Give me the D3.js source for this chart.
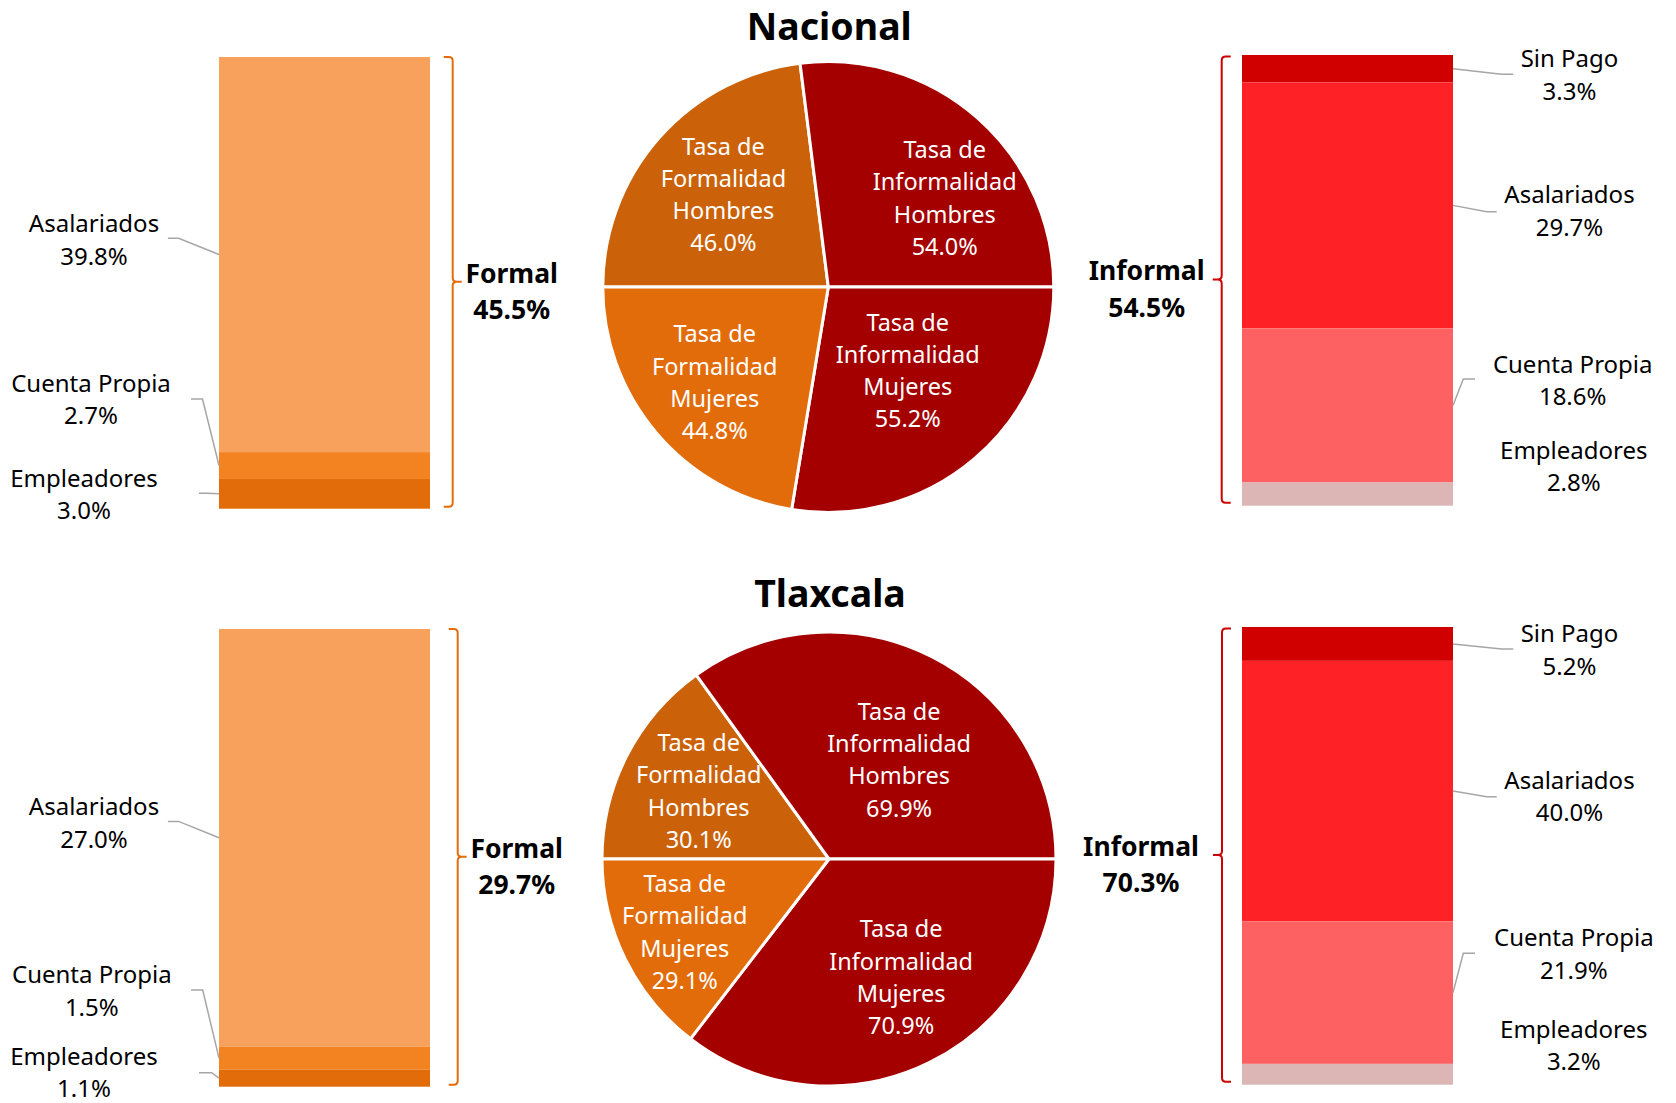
<!DOCTYPE html>
<html>
<head>
<meta charset="utf-8">
<script src="https://cdn.jsdelivr.net/npm/d3@7"></script>
<style>
  body { margin: 0; background: #fff; }
  svg { display: block; font-family: "Noto Sans", "Open Sans", sans-serif; }
</style>
</head>
<body>
<div id="chart"></div>
<script>
// ---- data ----
var regions = ["Nacional", "Tlaxcala"];

var formalCats = ["Asalariados", "Cuenta Propia", "Empleadores"];
var formalNacional = [39.8, 2.7, 3.0];
var formalTlaxcala = [27.0, 1.5, 1.1];

var informalCats = ["Sin Pago", "Asalariados", "Cuenta Propia", "Empleadores"];
var informalNacional = [3.3, 29.7, 18.6, 2.8];
var informalTlaxcala = [5.2, 40.0, 21.9, 3.2];

var pieCats = ["Formalidad Hombres", "Informalidad Hombres", "Informalidad Mujeres", "Formalidad Mujeres"];
var pieNacional = [46.0, 54.0, 55.2, 44.8];
var pieTlaxcala = [30.1, 69.9, 70.9, 29.1];

var formalTotal = [45.5, 29.7];
var informalTotal = [54.5, 70.3];

// ---- colours ----
var formalColors = ["#F7A15C", "#F38220", "#E36C0A"];
var informalColors = ["#D00000", "#FE2226", "#FE6161", "#DCB5B5"];
var pieColors = ["#CB620A", "#A50000", "#A50000", "#E36C0A"];
var orangeBrace = "#E46C0A", redBrace = "#CC0000", leaderGray = "#A6A6A6";

// ---- layout (per panel) ----
var layout = [
  {
    titleY: 39.6, cx: 828.3, cy: 287, r: 225.5,
    leftBar: [57, 508.7], rightBar: [55, 505.7],
    formalBraceX: 452.7, informalBraceX: 1221.7, informalDx: -66,
    // text centre x, first baseline, leader start x, elbow x, elbow y
    leftLabels: [[94, 232.4, 167.9, 178.6, 238.3], [91, 391.9, 191, 202.5, 399], [84, 486.6, 199, 207, 493.3]],
    rightLabels: [[1569.5, 67.1, 1513.3, 1501.7, 74.3], [1569.5, 203.2, 1496.7, 1486.7, 211.7],
                  [1572.7, 372.6, 1475, 1463.3, 379], [1573.8, 458.7]],
    pieNudge: [[0, 0], [24, 16], [-11, -23], [-7, 5]]
  },
  {
    titleY: 606.7, cx: 829, cy: 859, r: 227,
    leftBar: [629, 1086.7], rightBar: [627, 1084.7],
    formalBraceX: 457.7, informalBraceX: 1222, informalDx: -72,
    leftLabels: [[94, 815.2, 167.9, 178.6, 821.4], [91.8, 983.1, 191, 202.7, 990], [84, 1064.5, 199, 211.7, 1072.7]],
    rightLabels: [[1569.5, 642.1, 1513.3, 1501.7, 649], [1569.5, 788.5, 1496.7, 1486.7, 796.7],
                  [1573.8, 946.1, 1475, 1463.3, 953.3], [1573.8, 1037.8]],
    pieNudge: [[-5, -4], [6, 26], [10, -8], [-18, 11]]
  }
];

var formalData = [formalNacional, formalTlaxcala];
var informalData = [informalNacional, informalTlaxcala];
var pieData = [pieNacional, pieTlaxcala];

var width = 1676, height = 1103;
var fmt = function(v) { return d3.format(".1f")(v) + "%"; };

var svg = d3.select("#chart").append("svg")
  .attr("width", width)
  .attr("height", height);

var line = d3.line();

function brace(g, x, top, bot, dir, color) {
  var r = 4, arm = 9, mid = (top + bot) / 2;
  var hx = x - dir * arm, tip = x + dir * arm;
  var d = "M" + hx + "," + top + " L" + (x - dir * r) + "," + top +
    " Q" + x + "," + top + " " + x + "," + (top + r) +
    " L" + x + "," + (mid - r) +
    " Q" + x + "," + mid + " " + (x + dir * r) + "," + mid +
    " L" + tip + "," + mid +
    " M" + (x + dir * r) + "," + mid +
    " Q" + x + "," + mid + " " + x + "," + (mid + r) +
    " L" + x + "," + (bot - r) +
    " Q" + x + "," + bot + " " + (x - dir * r) + "," + bot +
    " L" + hx + "," + bot;
  g.append("path").attr("d", d)
    .attr("fill", "none").attr("stroke", color).attr("stroke-width", 2);
  return {tip: tip, mid: mid};
}

// segments stacked from the top of the bar downwards, first category on top
function stackedBar(g, values, cats, colors, x0, x1, range, labels, side) {
  var total = d3.sum(values);
  var y = d3.scaleLinear().domain([0, total]).range(range);
  var ends = d3.cumsum(values);
  var segs = values.map(function(v, i) {
    return {cat: cats[i], value: v, y0: ends[i] - v, y1: ends[i], color: colors[i], lab: labels[i]};
  });

  g.selectAll(null).data(segs).enter().append("rect")
    .attr("x", x0)
    .attr("width", x1 - x0)
    .attr("y", function(d) { return y(d.y0); })
    .attr("height", function(d) { return y(d.y1) - y(d.y0); })
    .attr("fill", function(d) { return d.color; });

  // leader lines
  var edge = side === "left" ? x0 : x1;
  g.selectAll(null).data(segs.filter(function(d) { return d.lab.length > 2; }))
    .enter().append("path")
    .attr("d", function(d) {
      var midY = y((d.y0 + d.y1) / 2);
      return line([[d.lab[2], d.lab[4]], [d.lab[3], d.lab[4]], [edge, midY]]);
    })
    .attr("fill", "none").attr("stroke", leaderGray).attr("stroke-width", 1.5);

  var t = g.selectAll(null).data(segs).enter().append("text")
    .attr("text-anchor", "middle")
    .attr("font-size", 24)
    .attr("fill", "#000");
  t.append("tspan")
    .attr("x", function(d) { return d.lab[0]; })
    .attr("y", function(d) { return d.lab[1]; })
    .text(function(d) { return d.cat; });
  t.append("tspan")
    .attr("x", function(d) { return d.lab[0]; })
    .attr("y", function(d) { return d.lab[1] + 32.5; })
    .text(function(d) { return fmt(d.value); });
}

regions.forEach(function(name, p) {
  var L = layout[p];
  var g = svg.append("g");

  // title
  g.append("text")
    .attr("x", L.cx + 1)
    .attr("y", L.titleY)
    .attr("text-anchor", "middle")
    .attr("font-size", 37.5)
    .attr("font-weight", "bold")
    .text(name);

  // pie
  var pie = d3.pie().sort(null).startAngle(-Math.PI / 2).endAngle(3 * Math.PI / 2);
  var arcs = pie(pieData[p]);
  var arc = d3.arc().innerRadius(0).outerRadius(L.r);
  var labelArc = d3.arc().innerRadius(L.r * 0.62).outerRadius(L.r * 0.62);
  var pg = g.append("g").attr("transform", "translate(" + L.cx + "," + L.cy + ")");

  pg.selectAll(null).data(arcs).enter().append("path")
    .attr("d", arc)
    .attr("fill", function(d, i) { return pieColors[i]; })
    .attr("stroke", "#fff")
    .attr("stroke-width", 3)
    .attr("stroke-linejoin", "round");

  var pl = pg.selectAll(null).data(arcs).enter().append("text")
    .attr("text-anchor", "middle")
    .attr("font-size", 23.5)
    .attr("fill", "#fff");
  pl.each(function(d, i) {
    var c = labelArc.centroid(d);
    var x = c[0] + L.pieNudge[i][0];
    var b1 = c[1] + L.pieNudge[i][1] - 40;
    var words = pieCats[i].split(" ");
    var lines = ["Tasa de", words[0], words[1], fmt(d.data)];
    d3.select(this).selectAll("tspan").data(lines).enter().append("tspan")
      .attr("x", x)
      .attr("y", function(s, k) { return b1 + k * 32.3; })
      .text(function(s) { return s; });
  });

  // formal bar (left) and informal bar (right)
  stackedBar(g, formalData[p], formalCats, formalColors, 219, 430, L.leftBar, L.leftLabels, "left");
  stackedBar(g, informalData[p], informalCats, informalColors, 1242, 1453, L.rightBar, L.rightLabels, "right");

  // braces + totals
  var fb = brace(g, L.formalBraceX, L.leftBar[0], L.leftBar[1] - 2, 1, orangeBrace);
  var ft = g.append("text").attr("text-anchor", "middle").attr("font-size", 26.5).attr("font-weight", "bold");
  ft.append("tspan").attr("x", fb.tip + 50).attr("y", fb.mid + 1).text("Formal");
  ft.append("tspan").attr("x", fb.tip + 50).attr("y", fb.mid + 37.5).text(fmt(formalTotal[p]));

  var ib = brace(g, L.informalBraceX, L.rightBar[0] + 1.5, L.rightBar[1] - 3, -1, redBrace);
  var it = g.append("text").attr("text-anchor", "middle").attr("font-size", 26.5).attr("font-weight", "bold");
  it.append("tspan").attr("x", ib.tip + L.informalDx).attr("y", ib.mid + 0.5).text("Informal");
  it.append("tspan").attr("x", ib.tip + L.informalDx).attr("y", ib.mid + 37).text(fmt(informalTotal[p]));
});
</script>
</body>
</html>
